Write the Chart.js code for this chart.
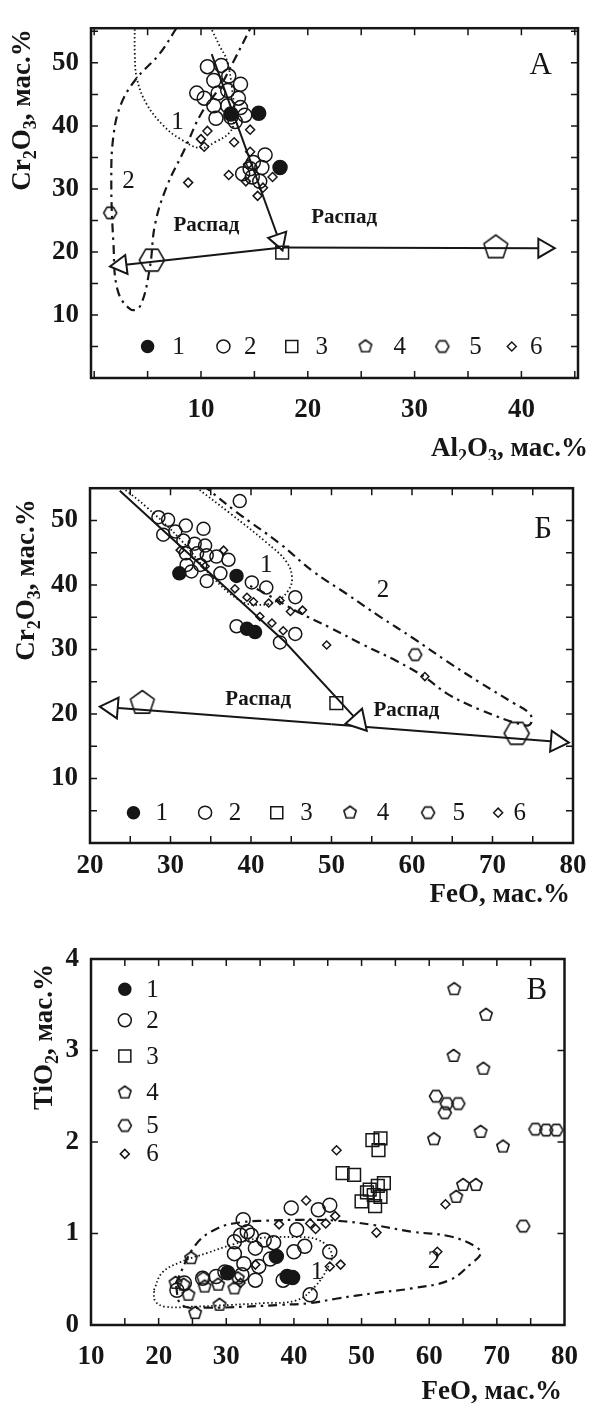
<!DOCTYPE html>
<html>
<head>
<meta charset="utf-8">
<script src="https://cdn.jsdelivr.net/npm/chart.js@4.4.1/dist/chart.umd.min.js"></script>
<style>
  html, body { margin: 0; padding: 0; background: #fff; }
  body { width: 594px; height: 1408px; position: relative; overflow: hidden; }
  canvas { position: absolute; left: 0; }
</style>
</head>
<body>
<canvas id="chartA" width="594" height="465" style="top:0px"></canvas>
<canvas id="chartB" width="594" height="450" style="top:460px"></canvas>
<canvas id="chartC" width="594" height="498" style="top:910px"></canvas>
<script>
// ---------- panel А : Al2O3 / Cr2O3 ----------
const aFilled = [[12.8,41.9],[15.4,42.0],[17.4,33.4]];
const aCircles = [[10.6,49.4],[11.9,49.6],[12.6,47.9],[13.7,46.6],[9.6,45.2],[10.3,44.4],[11.2,47.2],[11.6,45.2],
  [12.5,45.6],[13.5,44.4],[11.2,43.2],[12.5,43.2],[13.7,42.9],[11.4,41.2],[12.8,41.4],[14.1,41.7],[13.2,40.7],
  [16.0,35.4],[14.9,34.2],[15.7,33.4],[13.9,32.4],[14.8,31.9],[15.5,31.2],[14.6,33.2]];
const aDiamonds = [[10.6,39.2],[10.0,37.9],[10.3,36.7],[13.1,37.4],[14.6,39.4],[14.6,35.9],[12.6,32.2],
  [14.2,31.2],[15.3,28.9],[8.8,31.0],[16.7,31.9],[14.4,33.9],[15.8,30.2]];
const aSquares = [[17.6,19.9]];
const aHexSmall = [[1.5,26.2]];
const aHexBig = [[5.4,18.7]];
const aPentBig = [[37.6,20.7]];
const aArrowDown = [[11.0,51.4],[17.3,21.9]];
const aArrowRight = [[17.6,20.7],[42.1,20.6]];
const aArrowLeft = [[17.6,20.7],[2.5,17.9]];
const aField1 = [[3.8,56],[3.8,51.5],[4.0,47.5],[4.9,43.5],[6.5,40],[8.0,38],[9.9,36.5],[11.4,37.5],
  [12.7,39],[13.1,41],[12.9,46],[12.4,50.5],[11.8,52.5],[10.8,56]];
const aField2 = [[7.7,55.5],[6.1,51.4],[3.9,47.4],[2.5,43.4],[1.8,38.4],[1.6,31.4],[1.8,21.4],[2.2,13.9],
  [3.4,10.9],[4.3,11.4],[5.2,17.4],[5.7,24.4],[6.8,30.4],[8.5,36.4],[10.0,41.9],[11.7,46],[13.1,50.4],[14.6,55.4]];

// ---------- panel Б : FeO / Cr2O3 ----------
const bFilled = [[31.1,41.8],[38.2,41.4],[39.5,33.2],[40.5,32.7]];
const bCircles = [[38.6,53.0],[28.5,50.5],[29.7,50.1],[29.1,47.8],[30.6,48.3],[31.9,49.2],[34.1,48.7],[31.6,46.9],
  [33.0,46.4],[34.3,46.1],[31.9,44.9],[33.3,44.9],[34.5,44.6],[35.7,44.4],[37.2,43.9],[32.0,43.1],[33.7,43.1],
  [36.2,41.8],[32.6,42.1],[34.5,40.6],[40.1,40.4],[41.9,39.6],[45.5,38.1],[38.2,33.6],[45.5,32.4],[43.6,31.1]];
const bDiamonds = [[31.2,45.4],[36.6,45.4],[34.3,42.9],[38.0,39.4],[39.5,38.1],[40.3,37.4],[42.2,37.2],[43.6,37.6],
  [44.9,35.9],[46.4,36.1],[41.1,35.1],[42.6,34.1],[44.0,32.9],[49.4,30.7],[61.6,25.8]];
const bSquares = [[50.6,21.7]];
const bHexSmall = [[60.4,29.2]];
const bPentBig = [[26.5,21.7]];
const bHexBig = [[73.0,17.0]];
const bArrowMain = [[23.7,54.6],[44.2,31.2],[53.3,18.9]];
const bArrowLeft = [[50.0,18.4],[22.7,21.0]];
const bArrowRight = [[50.0,18.4],[78.0,15.7]];
const bField1 = [[32.8,55.5],[37.4,51.1],[41.9,46.6],[44.4,43.6],[45.1,41.1],[44.6,39.1],[43.2,37.5],[40.7,36.9],
  [38.6,37.6],[35.3,41.1],[31.2,47.1],[27.0,52.1],[23.6,55.5]];
const bField2 = [[34.0,55.5],[38.2,51.3],[43.6,46.4],[47.7,42.1],[51.9,38.6],[56.0,35.1],[60.2,31.7],[64.3,28.2],
  [68.4,24.9],[72.6,21.7],[74.5,20.2],[74.9,18.9],[74.2,18.2],[68.4,20.7],[64.3,23.2],[61.6,25.7],[58.1,28.2],
  [54.0,30.7],[49.8,33.4],[45.7,35.9],[41.9,38.6],[39.5,40.1]];

// ---------- panel В : FeO / TiO2 ----------
const cFilled = [[30.2,0.57],[37.4,0.75],[39.0,0.53],[39.8,0.52]];
const cCircles = [[32.5,1.15],[32.1,0.98],[33.7,0.98],[35.6,0.93],[37.0,0.90],[39.6,1.28],[40.4,1.04],[41.6,0.86],
  [43.6,1.26],[45.3,1.31],[45.3,0.80],[40.0,0.80],[34.3,0.84],[31.2,0.78],[32.6,0.67],[36.5,0.72],[34.8,0.64],
  [29.8,0.58],[32.3,0.55],[34.3,0.49],[38.4,0.49],[28.5,0.53],[26.5,0.51],[23.8,0.46],[22.7,0.38],[42.4,0.33],
  [31.2,0.91],[33.1,1.02]];
const cSquares = [[47.2,1.66],[48.9,1.64],[51.6,2.02],[52.8,2.04],[52.5,1.91],[50.0,1.35],[50.8,1.45],[51.8,1.42],
  [52.4,1.52],[53.3,1.55],[52.0,1.30],[52.8,1.40],[51.2,1.48]];
const cPents = [[63.7,3.67],[68.4,3.39],[63.6,2.94],[68.0,2.80],[60.7,2.03],[67.6,2.11],[70.9,1.95],[64.0,1.40],
  [65.0,1.53],[66.9,1.53],[24.8,0.73],[22.5,0.46],[23.7,0.44],[24.4,0.33],[26.6,0.51],[26.8,0.42],[28.8,0.44],
  [29.0,0.22],[25.4,0.13],[31.2,0.40],[31.7,0.51]];
const cHexes = [[61.0,2.50],[62.6,2.42],[64.3,2.42],[62.3,2.32],[75.7,2.14],[77.3,2.13],[78.8,2.13],[73.9,1.08]];
const cDiamonds = [[46.3,1.91],[52.2,1.01],[61.2,0.80],[46.9,0.66],[45.3,0.64],[41.8,1.36],[37.8,1.10],[42.4,1.11],
  [44.7,1.11],[46.1,1.19],[34.3,0.66],[32.1,0.46],[62.4,1.32],[43.2,1.05]];
const cField1 = [[19.3,0.38],[20.5,0.57],[23,0.68],[27.3,0.79],[31,0.88],[35,0.95],[40,0.96],[43.6,0.93],[45.6,0.78],
  [44.8,0.6],[43.1,0.42],[40.4,0.27],[35.6,0.24],[30.7,0.22],[25,0.2],[21,0.2],[19.5,0.26],[19.3,0.38]];
const cField2 = [[22.5,0.45],[25.4,0.87],[28.5,1.05],[32,1.12],[36,1.14],[41,1.15],[46.4,1.14],[52,1.09],[57.4,1.02],
  [63,0.97],[66.8,0.86],[67.6,0.78],[66.2,0.67],[63,0.49],[57.4,0.40],[52,0.35],[46.4,0.29],[42.5,0.24],[38,0.22],
  [32.6,0.2],[27,0.19],[23.4,0.22],[22.5,0.45]];

const legendLabels = ['1', '2', '3', '4', '5', '6'];

const INK = '#161616';
const SERIF = "'Liberation Serif', 'DejaVu Serif', 'Times New Roman', serif";

function polyMarker(sides, r, startDeg) {
  const s = Math.ceil(2 * r + 5);
  const c = document.createElement('canvas');
  c.width = s; c.height = s;
  const g = c.getContext('2d');
  g.strokeStyle = INK; g.lineWidth = 1.6; g.lineJoin = 'round';
  g.beginPath();
  for (let i = 0; i < sides; i++) {
    const a = (startDeg + i * 360 / sides) * Math.PI / 180;
    const px = s / 2 + r * Math.cos(a), py = s / 2 + r * Math.sin(a);
    if (i) g.lineTo(px, py); else g.moveTo(px, py);
  }
  g.closePath(); g.stroke();
  return c;
}
const pentSmall = polyMarker(5, 6.5, -90);
const pentBig = polyMarker(5, 12.5, -90);
const hexSmall = polyMarker(6, 6.5, 0);
const hexBig = polyMarker(6, 12.5, 0);

const xy = arr => arr.map(([x, y]) => ({ x, y }));

function pts(data, style, r, filled) {
  return {
    data: xy(data), showLine: false, pointStyle: style, pointRadius: r, pointHoverRadius: r,
    pointBorderColor: INK, pointBackgroundColor: filled ? INK : 'rgba(0,0,0,0)', pointBorderWidth: 1.5
  };
}
function curve(data, dash, width) {
  return { data: xy(data), showLine: true, borderColor: INK, borderWidth: width, borderDash: dash,
    pointRadius: 0, tension: 0.4, fill: false };
}
function arrow(data, rot, r) {
  const n = data.length;
  return {
    data: xy(data), showLine: true, borderColor: INK, borderWidth: 2, tension: 0,
    pointStyle: 'triangle', pointRadius: data.map((_, i) => i === n - 1 ? r : 0),
    pointRotation: data.map((_, i) => i === n - 1 ? rot : 0),
    pointBackgroundColor: '#fff', pointBorderColor: INK, pointBorderWidth: 2
  };
}

// legend marker styles, same order as labels 1..6
const legendMarks = [
  { style: 'circle', r: 6, fill: true },
  { style: 'circle', r: 6.5 },
  { style: 'rect', r: 8.5 },
  { style: pentSmall, r: 6 },
  { style: hexSmall, r: 6 },
  { style: 'rectRot', r: 4.5 }
];

function drawFormula(ctx, parts, x, y, align, rotate) {
  const big = 'bold 27px ' + SERIF, small = 'bold 18px ' + SERIF;
  let w = 0;
  parts.forEach(p => { ctx.font = p[1] ? small : big; w += ctx.measureText(p[0]).width; });
  ctx.save();
  ctx.translate(x, y);
  if (rotate) ctx.rotate(-Math.PI / 2);
  let cx = align === 'right' ? -w : align === 'center' ? -w / 2 : 0;
  ctx.textAlign = 'left'; ctx.textBaseline = 'alphabetic'; ctx.fillStyle = INK;
  parts.forEach(p => {
    ctx.font = p[1] ? small : big;
    ctx.fillText(p[0], cx, p[1] ? 6 : 0);
    cx += ctx.measureText(p[0]).width;
  });
  ctx.restore();
}

function makeDecor(cfg) {
  return {
    id: 'decor',
    beforeDraw(chart) {
      const ctx = chart.ctx;
      ctx.save(); ctx.fillStyle = '#fff'; ctx.fillRect(0, 0, chart.width, chart.height); ctx.restore();
    },
    afterDatasetsDraw(chart) {
      const { ctx, chartArea: a, scales: { x, y } } = chart;
      ctx.save();
      ctx.strokeStyle = INK; ctx.fillStyle = INK;
      // inner tick marks on all four sides
      ctx.lineWidth = 1.5;
      ctx.beginPath();
      x.ticks.forEach(t => {
        const px = x.getPixelForValue(t.value);
        if (px <= a.left + 2 || px >= a.right - 2) return;
        ctx.moveTo(px, a.bottom); ctx.lineTo(px, a.bottom - 7);
        ctx.moveTo(px, a.top); ctx.lineTo(px, a.top + 7);
      });
      y.ticks.forEach(t => {
        const py = y.getPixelForValue(t.value);
        if (py <= a.top + 2 || py >= a.bottom - 2) return;
        ctx.moveTo(a.left, py); ctx.lineTo(a.left + 7, py);
        ctx.moveTo(a.right, py); ctx.lineTo(a.right - 7, py);
      });
      ctx.stroke();
      ctx.lineWidth = 2.5;
      ctx.strokeRect(a.left, a.top, a.right - a.left, a.bottom - a.top);

      // text notes placed through the scales
      ctx.textAlign = 'center'; ctx.textBaseline = 'middle';
      cfg.notes.forEach(n => {
        ctx.font = n.font;
        ctx.fillText(n.text, x.getPixelForValue(n.x), y.getPixelForValue(n.y));
      });

      // legend
      const drawPoint = Chart.helpers.drawPoint;
      cfg.legend.forEach((it, i) => {
        const m = legendMarks[i];
        ctx.fillStyle = m.fill ? INK : 'rgba(0,0,0,0)';
        ctx.strokeStyle = INK; ctx.lineWidth = 1.5;
        drawPoint(ctx, { pointStyle: m.style, radius: m.r, rotation: 0, borderWidth: 1.5 },
          x.getPixelForValue(it.mx), y.getPixelForValue(it.y));
        ctx.fillStyle = INK;
        ctx.font = '25px ' + SERIF;
        ctx.fillText(legendLabels[i], x.getPixelForValue(it.lx), y.getPixelForValue(it.y) + 1);
      });

      // axis titles
      drawFormula(ctx, cfg.xTitle.parts, cfg.xTitle.x, cfg.xTitle.y, 'right', false);
      drawFormula(ctx, cfg.yTitle.parts, cfg.yTitle.x, cfg.yTitle.y, 'center', true);
      ctx.restore();
    }
  };
}

function makeScales(o) {
  const tickFont = { family: SERIF, size: 27, weight: 'bold' };
  return {
    x: {
      type: 'linear', min: o.xMin, max: o.xMax,
      grid: { display: false, drawTicks: false }, border: { display: false },
      ticks: { stepSize: o.xStep, includeBounds: false, autoSkip: false, maxRotation: 0,
        padding: o.xPad, color: INK, font: tickFont, callback: o.xLabel },
      afterFit: s => { s.height = o.xHeight; }
    },
    y: {
      type: 'linear', min: o.yMin, max: o.yMax,
      grid: { display: false, drawTicks: false }, border: { display: false },
      ticks: { stepSize: o.yStep, includeBounds: false, autoSkip: false,
        padding: 12, color: INK, font: tickFont, callback: o.yLabel },
      afterFit: s => { s.width = o.yWidth; }
    }
  };
}

function baseOptions(scales, padTop, padRight) {
  return {
    responsive: false, animation: false, events: [],
    layout: { padding: { top: padTop, right: padRight, left: 0, bottom: 0 } },
    plugins: { legend: { display: false }, tooltip: { enabled: false } },
    scales
  };
}

const every10 = v => (v % 10 === 0 && v >= 10 && v <= 50) ? String(v) : '';

// ---- chart А
new Chart(document.getElementById('chartA'), {
  type: 'scatter',
  data: { datasets: [
    pts(aFilled, 'circle', 7, true),
    pts(aCircles, 'circle', 7),
    pts(aSquares, 'rect', 9),
    pts(aPentBig, pentBig, 12),
    pts(aHexBig, hexBig, 12),
    pts(aHexSmall, hexSmall, 6),
    pts(aDiamonds, 'rectRot', 4.5),
    arrow(aArrowDown, 161, 11),
    arrow(aArrowRight, 90, 11),
    arrow(aArrowLeft, 263, 11),
    curve(aField1, [1.5, 2.5], 1.8),
    curve(aField2, [9, 5, 2.5, 5], 2.2)
  ] },
  options: baseOptions(makeScales({
    xMin: -0.3, xMax: 45.3, xStep: 5, xPad: 16, xHeight: 87, xLabel: v => (v % 10 === 0 && v > 0) ? String(v) : '',
    yMin: 0, yMax: 55.5, yStep: 5, yLabel: every10, yWidth: 91
  }), 7, 16),
  plugins: [makeDecor({
    notes: [
      { text: '1', x: 7.8, y: 40.5, font: '25px ' + SERIF },
      { text: '2', x: 3.2, y: 31.2, font: '25px ' + SERIF },
      { text: 'Распад', x: 10.5, y: 24.2, font: 'bold 21px ' + SERIF },
      { text: 'Распад', x: 23.4, y: 25.4, font: 'bold 21px ' + SERIF },
      { text: 'А', x: 41.8, y: 49.5, font: '31px ' + SERIF }
    ],
    legend: [
      { mx: 5.0, lx: 7.9, y: 5 }, { mx: 12.1, lx: 14.6, y: 5 }, { mx: 18.5, lx: 21.3, y: 5 },
      { mx: 25.4, lx: 28.6, y: 5 }, { mx: 32.6, lx: 35.7, y: 5 }, { mx: 39.1, lx: 41.4, y: 5 }
    ],
    xTitle: { parts: [['Al', 0], ['2', 1], ['O', 0], ['3', 1], [', мас.%', 0]], x: 588, y: 456 },
    yTitle: { parts: [['Cr', 0], ['2', 1], ['O', 0], ['3', 1], [', мас.%', 0]], x: 30, y: 110 }
  })]
});

// ---- chart Б
new Chart(document.getElementById('chartB'), {
  type: 'scatter',
  data: { datasets: [
    pts(bFilled, 'circle', 6.5, true),
    pts(bCircles, 'circle', 6.5),
    pts(bSquares, 'rect', 9),
    pts(bPentBig, pentBig, 12),
    pts(bHexBig, hexBig, 12),
    pts(bHexSmall, hexSmall, 6),
    pts(bDiamonds, 'rectRot', 4),
    arrow(bArrowMain, 138, 13),
    arrow(bArrowLeft, -85.4, 12),
    arrow(bArrowRight, 94.6, 12),
    curve(bField1, [1.5, 2.5], 1.8),
    curve(bField2, [9, 5, 2.5, 5], 2.2)
  ] },
  options: baseOptions(makeScales({
    xMin: 20, xMax: 80, xStep: 5, xPad: 7, xHeight: 67, xLabel: v => v % 10 === 0 ? String(v) : '',
    yMin: 0, yMax: 55, yStep: 5, yLabel: every10, yWidth: 90
  }), 18, 21),
  plugins: [makeDecor({
    notes: [
      { text: '1', x: 41.9, y: 43.1, font: '25px ' + SERIF },
      { text: '2', x: 56.4, y: 39.1, font: '25px ' + SERIF },
      { text: 'Распад', x: 40.9, y: 22.2, font: 'bold 21px ' + SERIF },
      { text: 'Распад', x: 59.3, y: 20.6, font: 'bold 21px ' + SERIF },
      { text: 'Б', x: 76.3, y: 48.6, font: '31px ' + SERIF }
    ],
    legend: [
      { mx: 25.4, lx: 28.9, y: 4.7 }, { mx: 34.3, lx: 38.0, y: 4.7 }, { mx: 43.2, lx: 46.9, y: 4.7 },
      { mx: 52.3, lx: 56.4, y: 4.7 }, { mx: 62.0, lx: 65.8, y: 4.7 }, { mx: 70.7, lx: 73.4, y: 4.7 }
    ],
    xTitle: { parts: [['FeO, мас.%', 0]], x: 570, y: 442 },
    yTitle: { parts: [['Cr', 0], ['2', 1], ['O', 0], ['3', 1], [', мас.%', 0]], x: 34, y: 120 }
  })]
});

// ---- chart В
new Chart(document.getElementById('chartC'), {
  type: 'scatter',
  data: { datasets: [
    pts(cFilled, 'circle', 7, true),
    pts(cCircles, 'circle', 7),
    pts(cSquares, 'rect', 9),
    pts(cPents, pentSmall, 6.5),
    pts(cHexes, hexSmall, 6.5),
    pts(cDiamonds, 'rectRot', 4.5),
    curve(cField1, [1.5, 2.5], 1.8),
    curve(cField2, [9, 5, 2.5, 5], 2.2)
  ] },
  options: baseOptions(makeScales({
    xMin: 10, xMax: 80, xStep: 5, xPad: 16, xHeight: 83, xLabel: v => v % 10 === 0 ? String(v) : '',
    yMin: 0, yMax: 4, yStep: 1, yLabel: v => String(v), yWidth: 91
  }), 49, 22),
  plugins: [makeDecor({
    notes: [
      { text: '1', x: 43.4, y: 0.57, font: '25px ' + SERIF },
      { text: '2', x: 60.7, y: 0.69, font: '25px ' + SERIF },
      { text: 'В', x: 75.9, y: 3.65, font: '31px ' + SERIF }
    ],
    legend: [
      { mx: 15.0, lx: 19.1, y: 3.67 }, { mx: 15.0, lx: 19.1, y: 3.33 }, { mx: 15.0, lx: 19.1, y: 2.94 },
      { mx: 15.0, lx: 19.1, y: 2.54 }, { mx: 15.0, lx: 19.1, y: 2.18 }, { mx: 15.0, lx: 19.1, y: 1.87 }
    ],
    xTitle: { parts: [['FeO, мас.%', 0]], x: 562, y: 489 },
    yTitle: { parts: [['TiO', 0], ['2', 1], [', мас.%', 0]], x: 52, y: 127 }
  })]
});
</script>
</body>
</html>
